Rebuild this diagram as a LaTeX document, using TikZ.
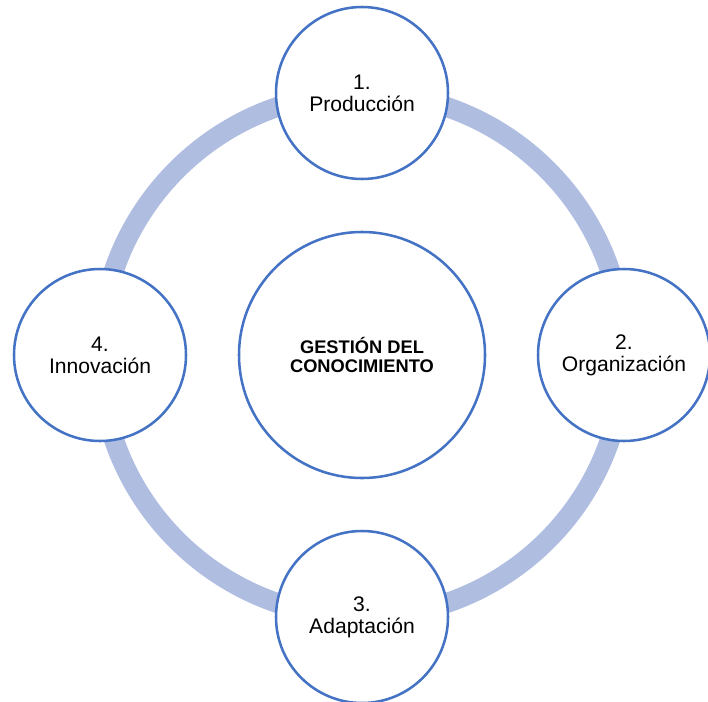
\documentclass[tikz,border=0pt]{standalone}
\usepackage{fontspec}
\setmainfont{Liberation Sans}
\usepackage{xcolor}
\usetikzlibrary{positioning}

\definecolor{ringblue}{RGB}{175,189,225}
\definecolor{edgeblue}{RGB}{68,114,196}

\begin{document}
\begin{tikzpicture}[
    stage/.style={circle, draw=edgeblue, line width=1.8pt, fill=white, minimum size=4.3cm,
        align=center, font=\fontsize{15}{15.5}\selectfont},
    core/.style={circle, draw=edgeblue, line width=1.8pt, fill=white, minimum size=6.15cm,
        align=center, font=\fontsize{13}{14.2}\selectfont\bfseries}
]
    \useasboundingbox (0,0) rectangle (17.7,-17.525);

    % Central node
    \node[core] (center) at (9.05, -8.875) {GESTIÓN DEL\\CONOCIMIENTO};

    % Background ring
    \draw[ringblue, line width=0.5cm] (center.center) circle (6.55cm);

    % Stages around the ring
    \node[stage] (prod) at (9.05, -2.325) {1.\\Producción};
    \node[stage] (org) at (15.6, -8.875) {2.\\Organización};
    \node[stage] (adap) at (9.05, -15.425) {3.\\Adaptación};
    \node[stage] (innov) at (2.5, -8.875) {4.\\Innovación};
\end{tikzpicture}
\end{document}
